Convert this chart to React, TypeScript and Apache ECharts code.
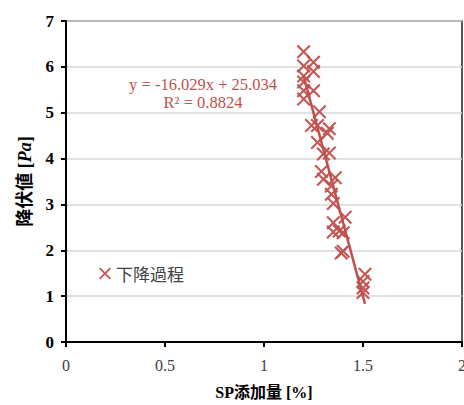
import React, { useEffect, useRef } from "react";
import * as echarts from "echarts";

const spAmount = [1.2, 1.2, 1.2, 1.2, 1.2, 1.2, 1.25, 1.25, 1.25, 1.28, 1.24, 1.27, 1.33, 1.32, 1.27, 1.33, 1.3, 1.29, 1.3, 1.36, 1.34, 1.34, 1.35, 1.41, 1.35, 1.35, 1.4, 1.38, 1.4, 1.39, 1.51, 1.5, 1.5, 1.5];
const yieldValue = [6.33, 6.02, 5.8, 5.67, 5.48, 5.3, 6.1, 5.9, 5.48, 5.02, 4.72, 4.72, 4.65, 4.55, 4.35, 4.12, 4.1, 3.72, 3.55, 3.58, 3.22, 3.4, 3.02, 2.72, 2.6, 2.4, 2.38, 2.42, 1.98, 1.94, 1.48, 1.32, 1.18, 1.08];
const trendSlope = -16.029;
const trendIntercept = 25.034;
const rSquared = 0.8824;
const seriesName = "下降過程";
const yTicks = [0, 1, 2, 3, 4, 5, 6, 7];
const xTicks = [0, 0.5, 1, 1.5, 2];

const RED = "#c0504d";
const X_PATH =
  "path://M0,1.5 L1.5,0 L7,5.5 L12.5,0 L14,1.5 L8.5,7 L14,12.5 L12.5,14 L7,8.5 L1.5,14 L0,12.5 L5.5,7 Z";

export default function App() {
  const ref = useRef<HTMLDivElement>(null);
  useEffect(() => {
    if (!ref.current) return;
    document.body.style.margin = "0";
    const chart = echarts.init(ref.current, null, { renderer: "svg" });
    const xMin = Math.min(...spAmount);
    const xMax = Math.max(...spAmount);
    const trend = [
      [xMin, trendSlope * xMin + trendIntercept],
      [xMax, trendSlope * xMax + trendIntercept],
    ];
    const eq = `y = ${trendSlope}x + ${trendIntercept}`;
    const r2 = `R² = ${rSquared}`;
    chart.setOption({
      animation: false,
      grid: {
        left: 66,
        right: 2,
        top: 21,
        bottom: 63,
        show: true,
        borderColor: "#222",
        borderWidth: 1.5,
        outerBoundsMode: "none",
        containLabel: false,
      },
      legend: {
        data: [{ name: seriesName, icon: X_PATH }],
        left: 94,
        top: 260,
        itemWidth: 12,
        itemHeight: 12,
        itemGap: 4,
        textStyle: {
          fontFamily: "Noto Sans CJK JP",
          fontSize: 17,
          color: "#404040",
        },
      },
      xAxis: {
        type: "value",
        min: xTicks[0],
        max: xTicks[xTicks.length - 1],
        interval: 0.5,
        name: "SP添加量 [%]",
        nameLocation: "middle",
        nameGap: 42,
        nameTextStyle: {
          fontFamily: "Liberation Serif, Noto Sans CJK JP",
          fontWeight: "bold",
          fontSize: 16,
          color: "#000",
        },
        axisLine: { lineStyle: { color: "#000", width: 2 } },
        axisTick: { show: true, length: 5, lineStyle: { color: "#000", width: 2 } },
        axisLabel: {
          fontFamily: "Liberation Serif",
          fontSize: 16,
          color: "#404040",
          margin: 15,
        },
        splitLine: { show: false },
      },
      yAxis: {
        type: "value",
        min: yTicks[0],
        max: yTicks[yTicks.length - 1],
        interval: 1,
        name: "{b|降伏値 [}{i|Pa}{b|]}",
        nameLocation: "middle",
        nameRotate: 90,
        nameGap: 32,
        nameTextStyle: {
          rich: {
            b: {
              fontFamily: "Liberation Serif, Noto Sans CJK JP",
              fontWeight: "bold",
              fontSize: 18,
              color: "#000",
            },
            i: {
              fontFamily: "Liberation Serif",
              fontWeight: "bold",
              fontStyle: "italic",
              fontSize: 18,
              color: "#000",
            },
          },
        },
        axisLine: { show: true, lineStyle: { color: "#000", width: 2 } },
        axisTick: { show: true, length: 5, lineStyle: { color: "#000", width: 2 } },
        axisLabel: {
          fontFamily: "Liberation Serif",
          fontWeight: "bold",
          fontSize: 17,
          color: "#000",
          margin: 12,
        },
        splitLine: { show: true, lineStyle: { color: "#d9d9d9", width: 1.5 } },
      },
      graphic: [
        {
          type: "text",
          x: 203,
          y: 84,
          style: {
            text: eq,
            fill: RED,
            font: "16.5px 'Liberation Serif'",
            align: "center",
            verticalAlign: "middle",
          },
        },
        {
          type: "text",
          x: 203,
          y: 102,
          style: {
            text: r2,
            fill: RED,
            font: "16.5px 'Liberation Serif'",
            align: "center",
            verticalAlign: "middle",
          },
        },
      ],
      series: [
        {
          name: seriesName,
          type: "scatter",
          data: spAmount.map((x, i) => [x, yieldValue[i]]),
          symbol: X_PATH,
          symbolSize: 14,
          itemStyle: { color: RED, opacity: 0.95 },
          z: 3,
        },
        {
          name: "trend",
          type: "line",
          data: trend,
          showSymbol: false,
          symbol: "none",
          lineStyle: { color: RED, width: 2.5 },
          z: 4,
        },
      ],
    });
    return () => chart.dispose();
  }, []);
  return <div ref={ref} style={{ width: 464, height: 405 }} />;
}
